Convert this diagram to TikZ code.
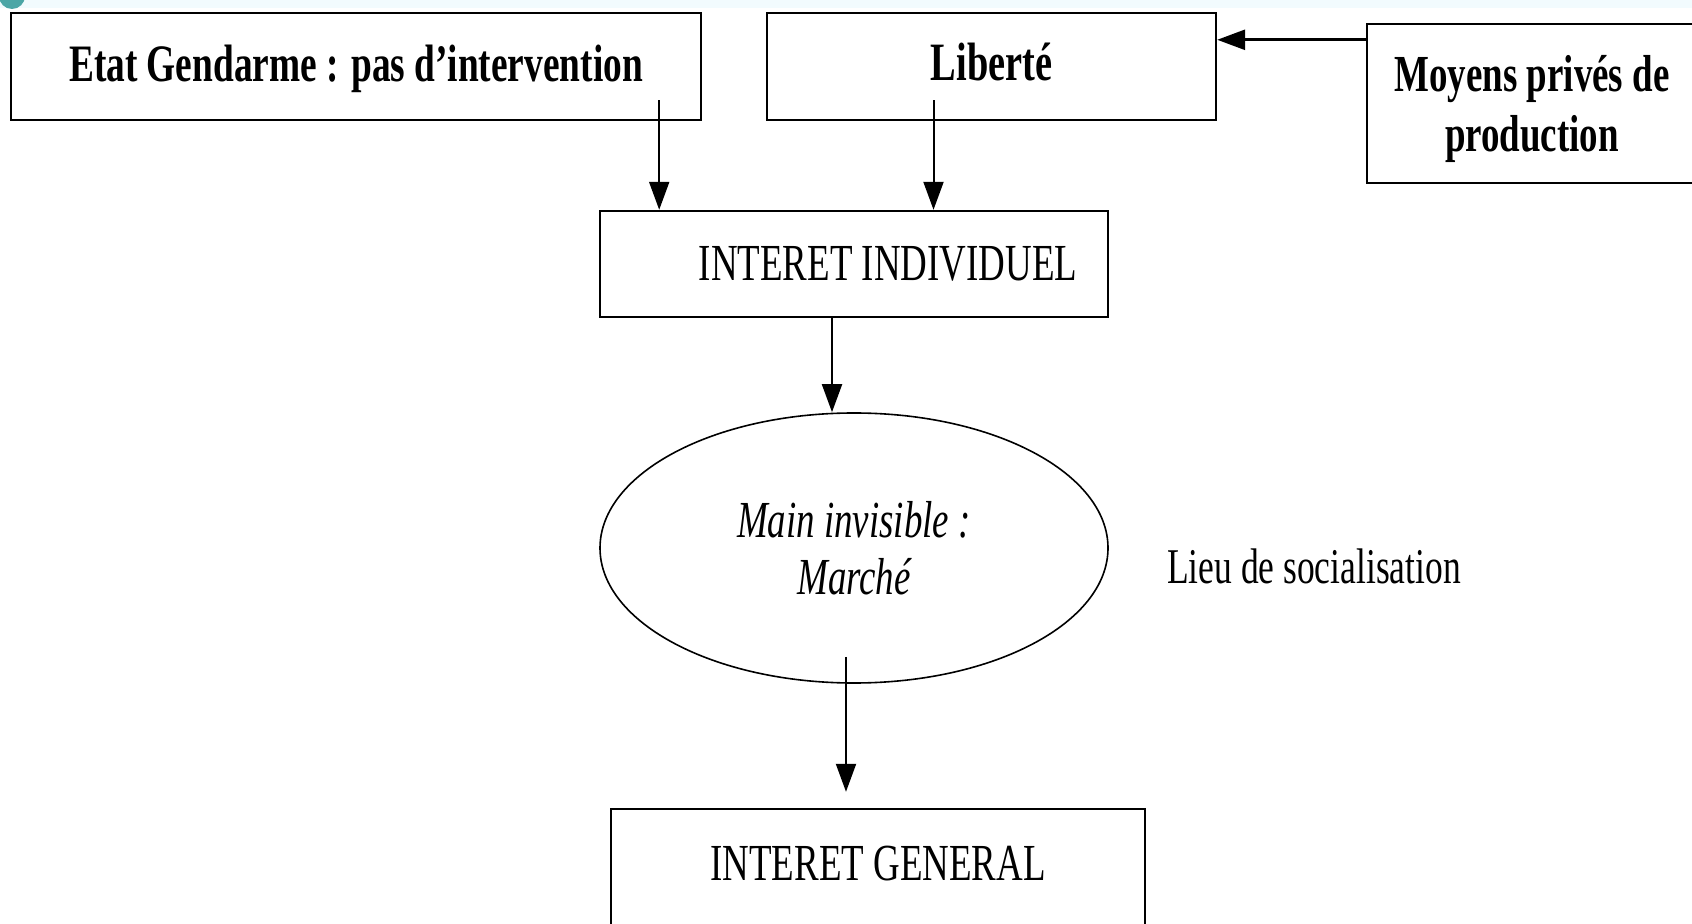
\documentclass[tikz,border=0pt]{standalone}
\usepackage{fontspec}
\setmainfont{Liberation Serif}
\newfontfamily\condfont[FakeStretch=0.71]{Liberation Serif}
\usetikzlibrary{arrows.meta,shapes.geometric,calc}

\begin{document}
\begin{tikzpicture}[x=0.5pt, y=-0.5pt,
    box/.style={draw, line width=1.2pt, rectangle, inner sep=0pt},
    arr/.style={-{Triangle[length=14pt,width=10pt]}, line width=1pt}]
  \useasboundingbox (0,0) rectangle (1692,924);
%  \draw[style=help lines] (0,0) grid (1692,924);
  \fill[cyan!5] (0,0) rectangle (1692,8);
  \fill[teal!70] (12,-4) circle (6.5pt);

  \node[box, minimum width=345pt, minimum height=53.5pt,
    font=\condfont\bfseries\fontsize{26.3}{30}\selectfont]
    (etat) at (356,66.5) {\raisebox{-1pt}[\height][\depth]{Etat Gendarme : pas d’intervention}};
  \node[box, minimum width=224.5pt, minimum height=53.5pt,
    font=\condfont\bfseries\fontsize{27}{30}\selectfont]
    (liberte) at (991.5,66.5) {\raisebox{2.2pt}[\height][\depth]{Libert\'e}};
  \node[box, minimum width=165pt, minimum height=79.5pt, align=center,
    font=\condfont\bfseries\fontsize{26}{30}\selectfont]
    (moyens) at (1532,103.5) {\raisebox{-2.7pt}[\height][\depth]{Moyens priv\'es de}\\\raisebox{-2.7pt}[\height][\depth]{production}};

  \node[box, minimum width=254pt, minimum height=53pt,
    font=\condfont\fontsize{26}{30}\selectfont]
    (indiv) at (854,264) {\hspace*{34pt}INTERET INDIVIDUEL};

  \node[draw, ellipse, line width=0.8pt, inner sep=0pt, minimum width=254pt,
    minimum height=135pt, align=center,
    font=\condfont\itshape\fontsize{26}{28.5}\selectfont]
    (marche) at (854,548) {Main invisible :\\March\'e};
  \node[font=\condfont\fontsize{25}{30}\selectfont]
    (lieu) at (1314,566) {Lieu de socialisation};

  \node[box, minimum width=267pt, minimum height=60pt,
    font=\condfont\fontsize{26}{30}\selectfont]
    (general) at (878,869) {\raisebox{2.7pt}[\height][\depth]{INTERET GENERAL}};

  \draw[arr] ($(etat.south east)+(-43,-21)$) coordinate (e1) -- (e1 |- indiv.north);
  \draw[arr] ($(liberte.south)+(-58,-21)$) coordinate (l1) -- (l1 |- indiv.north);
  \draw[arr, line width=1.4pt] ($(moyens.north west)+(0,17)$) coordinate (p1) -- (p1 -| liberte.east);
  \draw[arr] ($(indiv.south)+(-22,0)$) coordinate (i1) -- (i1 |- marche.north);
  \draw[arr] ($(marche.south)+(-8,-27)$) coordinate (m1) -- ($(m1 |- general.north)+(0,-16)$);
\end{tikzpicture}
\end{document}
